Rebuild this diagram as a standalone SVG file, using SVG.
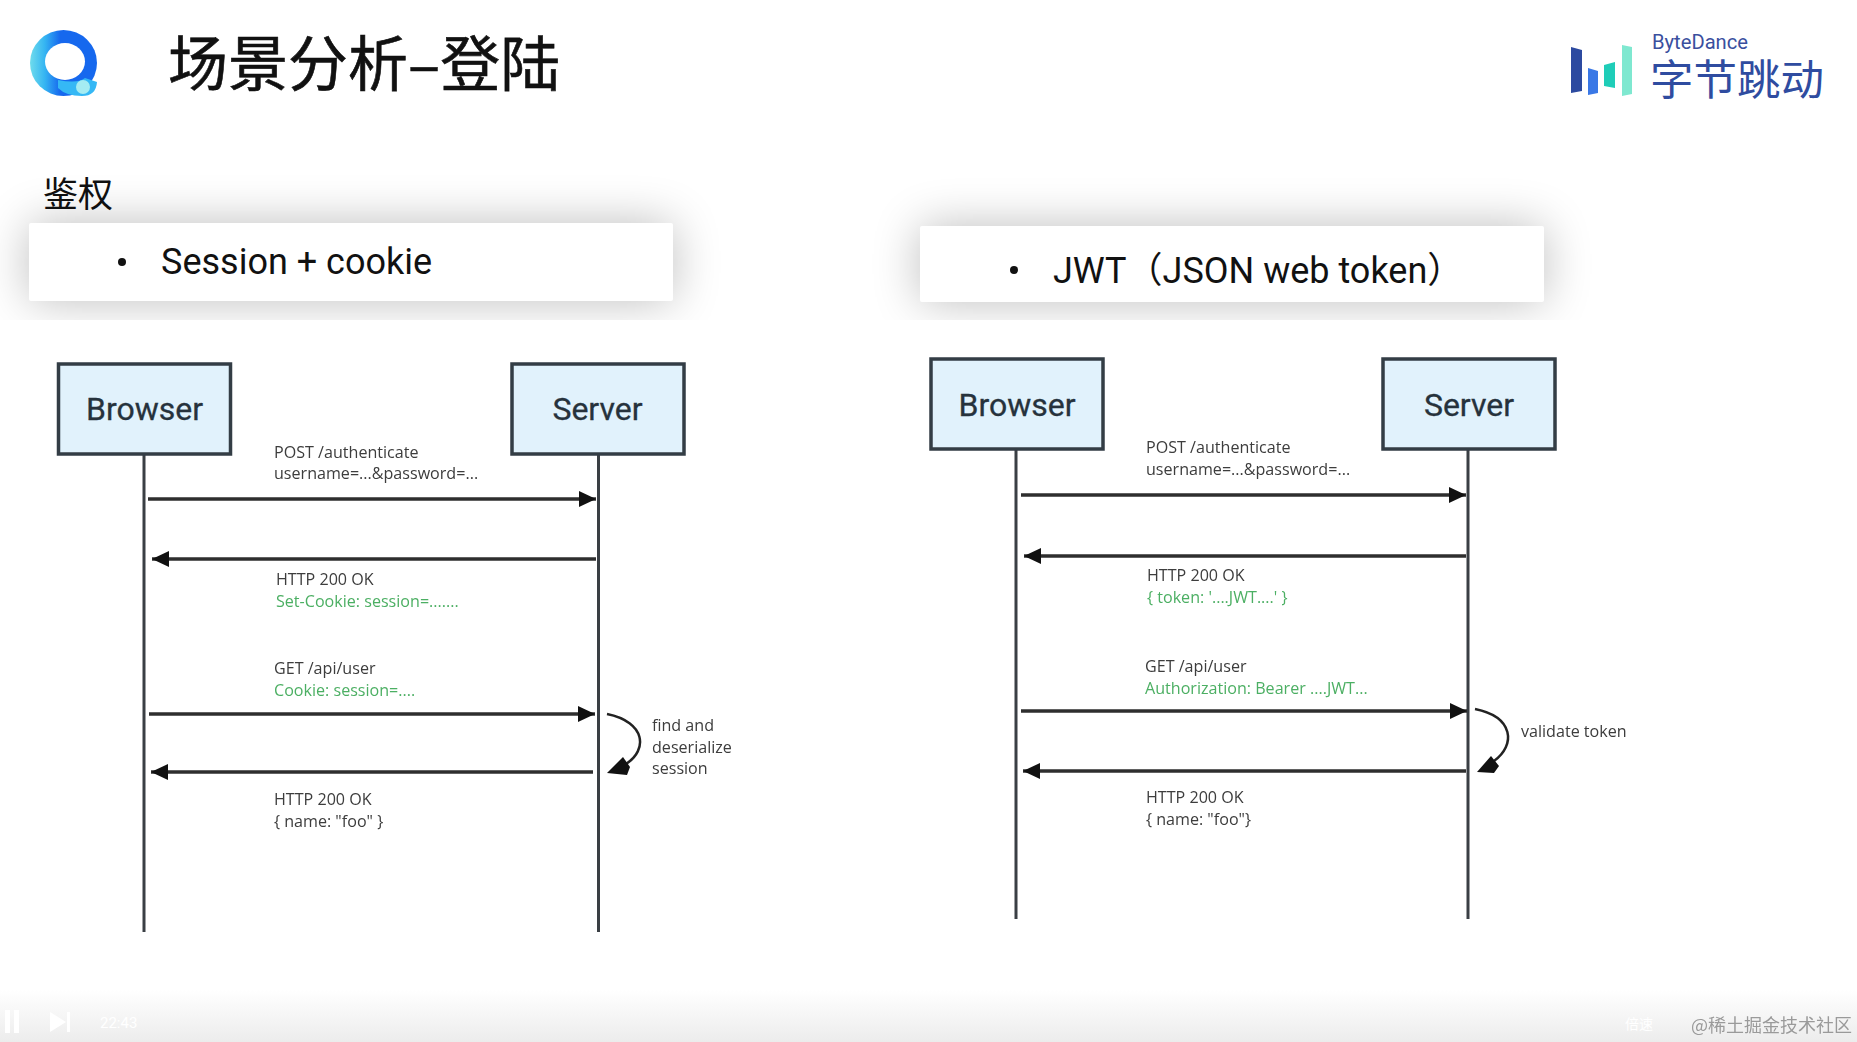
<svg xmlns="http://www.w3.org/2000/svg" width="1857" height="1042" viewBox="0 0 1857 1042">
<style>
.title{font-family:"Noto Sans CJK SC","Noto Sans",sans-serif;fill:#111}
.bul{font-family:Roboto,"Noto Sans CJK SC",sans-serif;font-size:36px;fill:#111}
.box{fill:#e1f2fc;stroke:#333d45;stroke-width:3.500}
.boxt{font-family:Roboto,sans-serif;font-size:32px;fill:#26323c;text-anchor:middle;stroke:#26323c;stroke-width:.3}
.lab{font-family:"Open Sans",sans-serif;font-size:16.100px;fill:#3c3c3c;filter:url(#soft)}
.grn{fill:#4caf63}
.life{stroke:#3a3f44;stroke-width:3;fill:none}
.msg{stroke:#2e2e2e;stroke-width:3.500;fill:none;marker-end:url(#ah)}
.loop{stroke:#222;stroke-width:2.500;fill:none}
.head{fill:#111}
</style>
<defs>
<filter id="soft" x="-5%" y="-20%" width="110%" height="140%"><feGaussianBlur stdDeviation="0.4"/></filter>
<filter id="blur" x="-30%" y="-120%" width="160%" height="340%"><feGaussianBlur stdDeviation="24"/></filter>
<clipPath id="c1"><rect x="0" y="150" width="760" height="170"/></clipPath>
<clipPath id="c2"><rect x="860" y="150" width="760" height="170"/></clipPath>
<marker id="ah" markerUnits="userSpaceOnUse" markerWidth="18" markerHeight="16" refX="17" refY="8" orient="auto"><path d="M0 0L17 8L0 16Z" fill="#111"/></marker>
<linearGradient id="lg" x1="0" x2="1" y1="0" y2="0"><stop offset="0" stop-color="#6fdcec"/><stop offset=".22" stop-color="#35b5f2"/><stop offset=".45" stop-color="#1668ee"/><stop offset="1" stop-color="#1668ee"/></linearGradient>
<linearGradient id="bg" x1="0" x2="0" y1="0" y2="1"><stop offset="0" stop-color="#fff"/><stop offset="1" stop-color="#ececec"/></linearGradient>
</defs>
<rect width="1857" height="1042" fill="#fff"/>
<g id="bottom-bar">
<rect x="0" y="990" width="1857" height="52" fill="url(#bg)"/>
<rect x="5" y="1010" width="5" height="23" fill="#fff"/><rect x="14" y="1010" width="5" height="23" fill="#fff"/>
<path d="M50 1012L66 1022L50 1032Z" fill="#fff"/><rect x="67" y="1012" width="3" height="20" fill="#fff"/>
<text x="100" y="1028" font-family="Roboto,sans-serif" font-size="15" fill="#fff">22:43</text>
<text x="1625" y="1029" font-family="'Noto Sans CJK SC',sans-serif" font-size="14" fill="#fff">倍速</text>
<text x="1691" y="1032" font-family="'Noto Sans CJK SC',sans-serif" font-size="18" fill="#9a9a9a" filter="url(#soft)">@稀土掘金技术社区</text>
</g>
<g id="logo-left">
<ellipse cx="63.500" cy="63" rx="33.500" ry="33" fill="url(#lg)"/>
<path d="M58 80Q78 84 85 78L97 82Q96 96 82 96Q66 96 58 88Z" fill="#35b8f5"/>
<ellipse cx="65" cy="61.500" rx="20" ry="18.500" fill="#fff"/>
<circle cx="83" cy="87" r="7" fill="#a5ecf2"/>
</g>
<text id="title" class="title" x="168" y="86" font-size="60" stroke="#111" stroke-width=".6">场景分析–登陆</text>
<g id="logo-right">
<path d="M1571 47L1582 50V91L1571 93Z" fill="#2c4aa0"/>
<path d="M1588 68L1598 71V93L1588 95Z" fill="#3a78e6"/>
<path d="M1604 65L1615 62V88L1604 86Z" fill="#1fcdb8"/>
<path d="M1622 45L1632 47V94L1622 96Z" fill="#7fe8d0"/>
<text x="1652" y="49" font-family="Roboto,sans-serif" font-size="20" fill="#3a4f9e" textLength="96" lengthAdjust="spacingAndGlyphs">ByteDance</text>
<text x="1650" y="95" font-family="'Noto Sans CJK SC',sans-serif" font-size="42" fill="#2f4ca0" textLength="174" lengthAdjust="spacingAndGlyphs">字节跳动</text>
</g>
<text id="subtitle" class="title" x="43" y="207" font-size="35">鉴权</text>
<g id="card-session">
<g clip-path="url(#c1)"><rect x="29" y="223" width="644" height="78" fill="#000" opacity=".26" filter="url(#blur)"/></g>
<rect x="29" y="223" width="644" height="78" rx="2" fill="#fff"/>
<circle cx="122" cy="262" r="4" fill="#111"/>
<text class="bul" x="161" y="274">Session + cookie</text>
</g>
<g id="card-jwt">
<g clip-path="url(#c2)"><rect x="920" y="226" width="624" height="76" fill="#000" opacity=".26" filter="url(#blur)"/></g>
<rect x="920" y="226" width="624" height="76" rx="2" fill="#fff"/>
<circle cx="1014" cy="270" r="4" fill="#111"/>
<text class="bul" x="1053" y="283">JWT（JSON web token）</text>
</g>
<g id="connectors">
<path class="life" d="M144 454V932M598.500 454V932M1016 449V919M1468 449V919"/>
<path class="msg" d="M148 499H596"/>
<path class="msg" d="M596 559H152"/>
<path class="msg" d="M149 714H595"/>
<path class="msg" d="M593 772H151"/>
<path class="msg" d="M1021 495H1466"/>
<path class="msg" d="M1466 556H1024"/>
<path class="msg" d="M1021 711H1467"/>
<path class="msg" d="M1466 771H1023"/>
<path class="loop" d="M607 714C646 722 648 750 626 764"/>
<path class="head" d="M607 773L623 757L630 767L627 775Z"/>
<path class="loop" d="M1475 709C1514 717 1516 745 1494 761"/>
<path class="head" d="M1477 772L1491 756L1499 766L1494 773Z"/>
</g>
<g id="node-browser-1"><rect class="box" x="58.500" y="364" width="172" height="90"/><text class="boxt" x="144.500" y="420">Browser</text></g>
<g id="node-server-1"><rect class="box" x="512" y="364" width="172" height="90"/><text class="boxt" x="597.500" y="420">Server</text></g>
<g id="node-browser-2"><rect class="box" x="931" y="359" width="172" height="90"/><text class="boxt" x="1017" y="416">Browser</text></g>
<g id="node-server-2"><rect class="box" x="1383" y="359" width="172" height="90"/><text class="boxt" x="1469" y="416">Server</text></g>
<g id="labels">
<text class="lab" x="274" y="458">POST /authenticate</text>
<text class="lab" x="274" y="479">username=...&amp;password=...</text>
<text class="lab" x="276" y="585">HTTP 200 OK</text>
<text class="lab grn" x="276" y="607">Set-Cookie: session=.......</text>
<text class="lab" x="274" y="674">GET /api/user</text>
<text class="lab grn" x="274" y="696">Cookie: session=....</text>
<text class="lab" x="652" y="731">find and</text>
<text class="lab" x="652" y="753">deserialize</text>
<text class="lab" x="652" y="774">session</text>
<text class="lab" x="274" y="805">HTTP 200 OK</text>
<text class="lab" x="274" y="827">{  name: "foo" }</text>
<text class="lab" x="1146" y="453">POST /authenticate</text>
<text class="lab" x="1146" y="475">username=...&amp;password=...</text>
<text class="lab" x="1147" y="581">HTTP 200 OK</text>
<text class="lab grn" x="1147" y="603">{ token: '....JWT....' }</text>
<text class="lab" x="1145" y="672">GET /api/user</text>
<text class="lab grn" x="1145" y="694">Authorization: Bearer ....JWT...</text>
<text class="lab" x="1521" y="737">validate token</text>
<text class="lab" x="1146" y="803">HTTP 200 OK</text>
<text class="lab" x="1146" y="825">{ name: "foo"}</text>
</g>
</svg>
